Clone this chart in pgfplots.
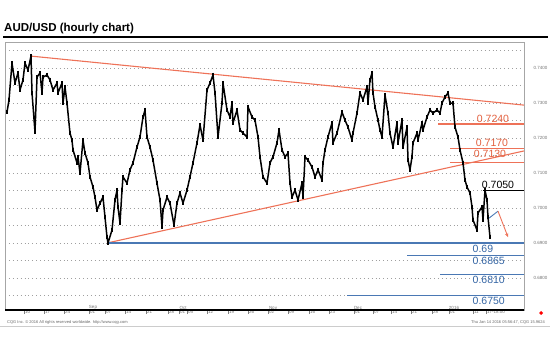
\documentclass[border=0pt]{standalone}
\usepackage{pgfplots}
\pgfplotsset{compat=1.18}
\usepackage{fontspec}
\setmainfont{Liberation Sans}
\usetikzlibrary{arrows.meta}
\definecolor{tred}{HTML}{EE7258}
\definecolor{tredtext}{HTML}{E2603F}
\definecolor{tblue}{HTML}{4A78B4}
\definecolor{tbluetext}{HTML}{3465A4}
\begin{document}
\begin{tikzpicture}[x=1pt,y=1pt]
\useasboundingbox (0,0) rectangle (550,354);
\node[anchor=base west, inner sep=0, font=\bfseries\fontsize{11.5}{13}\selectfont] at (4,322) {AUD/USD (hourly chart)};
\draw[line width=1.3pt] (3,317) -- (548,317);
\begin{axis}[
  at={(5pt,44pt)}, anchor=south west, scale only axis,
  width=519pt, height=268pt,
  xmin=5, xmax=524, ymin=0.67086, ymax=0.74743,
  axis line style={gray!70, line width=0.6pt},
  /pgf/number format/assume math mode=true,
  ytick={0.68,0.69,0.70,0.71,0.72,0.73,0.74},
  minor ytick={0.675,0.685,0.695,0.705,0.715,0.725,0.735,0.745},
  ymajorgrids=true, yminorgrids=true,
  major grid style={gray!75, line width=0.7pt, dash pattern=on 0.9pt off 3pt},
  minor grid style={gray!75, line width=0.7pt, dash pattern=on 0.9pt off 3pt},
  ytick pos=right, yticklabel pos=right,
  y tick style={draw=none},
  minor y tick style={draw=none},
  yticklabel={\pgfmathprintnumber[fixed,fixed zerofill,precision=4]{\tick}},
  yticklabel style={font=\fontsize{4.5}{5}\selectfont, text=gray!90!black, xshift=2pt},
  xtick pos=bottom,
  xtick={24,44,64,89,105,125,146,168,179,187,207,228,248,268,288,309,329,354,373,391,411,432,449,473,486},
  xticklabels={10,17,24,01,07,14,21,28,01,05,12,19,26,02,09,16,23,01,07,14,21,28,01,11,17-18:00},
  tick align=outside, major tick length=4pt,
  x tick style={gray, line width=0.5pt},
  xticklabel style={font=\fontsize{4.5}{5}\selectfont, text=gray!90!black, anchor=north west, inner sep=0.5pt, xshift=0.3pt, yshift=4pt},
]
% trend lines and levels
\addplot[tred, line width=1.1pt] coordinates {(31,0.7434) (524,0.7294)};
\addplot[tred, line width=1.1pt] coordinates {(107,0.6900) (524,0.7163)};
\addplot[tred, line width=1.1pt] coordinates {(438,0.7240) (524,0.7240)};
\addplot[tred, line width=1.1pt] coordinates {(450,0.7170) (524,0.7170)};
\addplot[tred, line width=1.1pt] coordinates {(450,0.7130) (524,0.7130)};
\addplot[black, line width=1.0pt] coordinates {(483,0.7050) (524,0.7050)};
\addplot[tblue, line width=1.1pt] coordinates {(107,0.6900) (524,0.6900)};
\addplot[tblue, line width=1.1pt] coordinates {(407,0.6865) (524,0.6865)};
\addplot[tblue, line width=1.1pt] coordinates {(440,0.6810) (524,0.6810)};
\addplot[tblue, line width=1.1pt] coordinates {(347,0.6750) (524,0.6750)};
% price (hourly, traced)
\addplot[black, line width=1.5pt, line join=round, mark=|, mark size=2.3pt, mark options={line width=1.1pt}] coordinates {
(7,0.7274) (9,0.7309) (12,0.7414) (15,0.7357) (18,0.7386) (20,0.7337) (23,0.7366) (25,0.7414) (28,0.7394) (31,0.7434)
(32,0.7329) (35,0.7217) (37,0.7374) (40,0.7386) (42,0.7329) (43,0.7374) (47,0.7380) (50,0.7366) (53,0.7337) (57,0.7357)
(58,0.7329) (62,0.7357) (63,0.7300) (65,0.7346) (67,0.7300) (70,0.7214) (72,0.7194) (73,0.7166) (77,0.7129) (78,0.7146)
(80,0.7100) (83,0.7194) (85,0.7157) (88,0.7129) (90,0.7089) (93,0.7060) (95,0.7031) (97,0.6994) (100,0.7014) (103,0.7031)
(105,0.6974) (107,0.6917) (108,0.6900) (112,0.6937) (115,0.7023) (117,0.7051) (118,0.7003) (120,0.6957) (122,0.7051) (123,0.7089)
(127,0.7071) (130,0.7109) (133,0.7129) (137,0.7174) (140,0.7203) (143,0.7260) (145,0.7280) (147,0.7203) (150,0.7174) (153,0.7137)
(157,0.7071) (160,0.7023) (162,0.6946) (163,0.6994) (167,0.7031) (170,0.7014) (174,0.6951) (177,0.7014) (180,0.7043) (183,0.7014)
(187,0.7051) (190,0.7089) (193,0.7129) (197,0.7186) (200,0.7237) (203,0.7194) (207,0.7337) (210,0.7357) (213,0.7380) (215,0.7329)
(218,0.7203) (222,0.7300) (223,0.7357) (227,0.7280) (230,0.7260) (232,0.7300) (233,0.7243) (237,0.7280) (240,0.7223) (243,0.7214)
(247,0.7203) (248,0.7289) (252,0.7260) (255,0.7251) (258,0.7203) (260,0.7146) (263,0.7089) (267,0.7071) (270,0.7129) (273,0.7146)
(277,0.7186) (279,0.7223) (282,0.7166) (285,0.7146) (288,0.7157) (290,0.7071) (292,0.7031) (295,0.7051) (298,0.7023) (302,0.7071)
(303,0.7031) (305,0.7146) (308,0.7137) (312,0.7117) (315,0.7089) (318,0.7109) (322,0.7080) (323,0.7129) (325,0.7166) (328,0.7203)
(332,0.7243) (333,0.7186) (337,0.7214) (342,0.7274) (345,0.7251) (348,0.7231) (352,0.7194) (353,0.7214) (357,0.7271) (360,0.7329)
(363,0.7309) (367,0.7346) (368,0.7300) (370,0.7366) (372,0.7386) (373,0.7329) (375,0.7289) (378,0.7251) (380,0.7223) (382,0.7203)
(385,0.7323) (388,0.7271) (390,0.7214) (393,0.7174) (397,0.7243) (398,0.7186) (402,0.7251) (403,0.7174) (407,0.7231) (408,0.7137)
(410,0.7109) (412,0.7146) (413,0.7186) (417,0.7214) (418,0.7194) (422,0.7243) (423,0.7223) (427,0.7260) (430,0.7280) (433,0.7271)
(437,0.7280) (440,0.7271) (442,0.7300) (445,0.7317) (448,0.7329) (450,0.7300) (453,0.7300) (455,0.7231) (458,0.7203) (460,0.7166)
(463,0.7129) (465,0.7080) (467,0.7060) (470,0.7043) (472,0.7003) (473,0.6966) (477,0.6937) (478,0.6986) (482,0.7003) (483,0.6966)
(485,0.7051) (487,0.7023) (488,0.6974) (490,0.6917)
};
% projection
\addplot[tblue, line width=0.9pt] coordinates {(489,0.6971) (498,0.6991)};
\addplot[tred, line width=0.9pt, -{Stealth[length=4pt,width=3.5pt]}] coordinates {(498,0.6991) (508,0.6917)};
% level labels
\node[text=tredtext, font=\fontsize{10.5}{11}\selectfont, anchor=south, inner sep=0.5pt, yshift=1pt] at (axis cs:493,0.7240) {0.7240};
\node[text=tredtext, font=\fontsize{10.5}{11}\selectfont, anchor=south, inner sep=0.5pt, yshift=1pt] at (axis cs:492,0.7170) {0.7170};
\node[text=tredtext, font=\fontsize{10.5}{11}\selectfont, anchor=south, inner sep=0.5pt, yshift=4.5pt] at (axis cs:490,0.7130) {0.7130};
\node[text=black, font=\fontsize{10.5}{11}\selectfont, anchor=south, inner sep=0.5pt, yshift=1pt] at (axis cs:498,0.7050) {0.7050};
\node[text=tbluetext, font=\fontsize{10.5}{11}\selectfont, anchor=north west, inner sep=0.5pt, yshift=-1pt] at (axis cs:472,0.6900) {0.69};
\node[text=tbluetext, font=\fontsize{10.5}{11}\selectfont, anchor=north west, inner sep=0.5pt, yshift=-1pt] at (axis cs:472,0.6865) {0.6865};
\node[text=tbluetext, font=\fontsize{10.5}{11}\selectfont, anchor=north west, inner sep=0.5pt, yshift=-1pt] at (axis cs:472,0.6810) {0.6810};
\node[text=tbluetext, font=\fontsize{10.5}{11}\selectfont, anchor=north west, inner sep=0.5pt, yshift=-1pt] at (axis cs:472,0.6750) {0.6750};
% month labels
\foreach \mx/\mn in {93/Sep,183/Oct,273/Nov,358/Dec,454/2016}{
  \edef\tmp{\noexpand\node[font=\noexpand\fontsize{4.5}{5}\noexpand\selectfont, text=gray!90!black, anchor=south, inner sep=0.3pt] at (axis cs:\mx,0.67086) {\mn};}\tmp
}
\draw[black, line width=1.3pt] (rel axis cs:0,0) -- (rel axis cs:1,0);
\end{axis}
\node[anchor=west, inner sep=0, font=\fontsize{4}{5}\selectfont, text=gray!80!black] at (7,32) {CQG Inc. \textcopyright{} 2016 All rights reserved worldwide. http://www.cqg.com};
\node[anchor=east, inner sep=0, font=\fontsize{4}{5}\selectfont, text=gray!80!black] at (545,32) {Thu Jan 14 2016 05:56:47, CQG 15.9624};
\draw[gray!40, line width=0.6pt] (0,28) -- (550,28);
\fill[red] (541,43) -- (543,41) -- (541,39) -- (539,41) -- cycle;
\end{tikzpicture}
\end{document}
